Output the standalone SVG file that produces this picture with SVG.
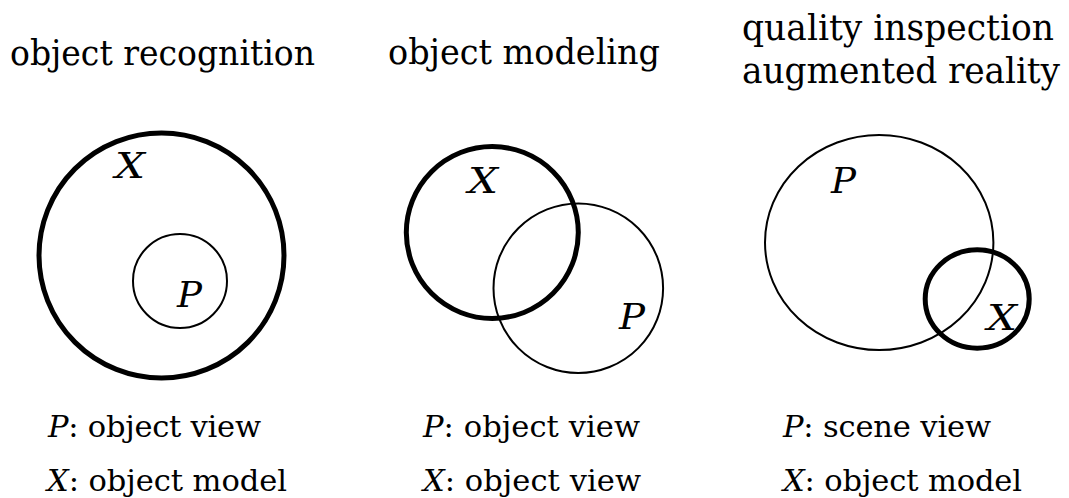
<svg xmlns="http://www.w3.org/2000/svg" width="1069" height="498" viewBox="0 0 1069 498">
<style>
.title{font-size:36px}
.title3{font-size:34.5px}
.lab{font-size:30.5px}
.var{font-style:italic;font-size:36px}
.it{font-style:italic}
.thick{fill:none;stroke:#000;stroke-width:5}
.thin{fill:none;stroke:#000;stroke-width:2}
</style>
<rect width="1069" height="498" fill="#fff"/>
<g id="panel-recognition" font-family="DejaVu Serif, serif" fill="#000">
<text class="title" x="10" y="65" textLength="305" lengthAdjust="spacingAndGlyphs">object recognition</text>
<circle class="thick" cx="161.5" cy="255.5" r="122.5"/>
<circle class="thin" cx="180" cy="281" r="47"/>
<text class="var" x="115" y="178" textLength="30" lengthAdjust="spacingAndGlyphs">X</text>
<text class="var" x="177" y="307" textLength="25" lengthAdjust="spacingAndGlyphs">P</text>
<text class="lab" x="48" y="437" textLength="213" lengthAdjust="spacing"><tspan class="it">P</tspan>: object view</text>
<text class="lab" x="47" y="491" textLength="240" lengthAdjust="spacing"><tspan class="it">X</tspan>: object model</text>
</g>
<g id="panel-modeling" font-family="DejaVu Serif, serif" fill="#000">
<text class="title" x="388" y="64" textLength="272" lengthAdjust="spacingAndGlyphs">object modeling</text>
<circle class="thin" cx="578.3" cy="288.2" r="84.8"/>
<circle class="thick" cx="492.3" cy="232.5" r="86"/>
<text class="var" x="468" y="193" textLength="30" lengthAdjust="spacingAndGlyphs">X</text>
<text class="var" x="619" y="329" textLength="26" lengthAdjust="spacingAndGlyphs">P</text>
<text class="lab" x="423" y="437" textLength="217" lengthAdjust="spacing"><tspan class="it">P</tspan>: object view</text>
<text class="lab" x="423" y="491" textLength="218" lengthAdjust="spacing"><tspan class="it">X</tspan>: object view</text>
</g>
<g id="panel-inspection" font-family="DejaVu Serif, serif" fill="#000">
<text class="title3" x="742" y="40" textLength="312" lengthAdjust="spacing">quality inspection</text>
<text class="title3" x="742" y="83" textLength="318" lengthAdjust="spacing">augmented reality</text>
<ellipse class="thin" cx="879.2" cy="242.5" rx="114.2" ry="107.5"/>
<ellipse class="thick" cx="977.2" cy="299" rx="52" ry="49.2"/>
<text class="var" x="831" y="193" textLength="25" lengthAdjust="spacingAndGlyphs">P</text>
<text class="var" x="987" y="330" textLength="30" lengthAdjust="spacingAndGlyphs">X</text>
<text class="lab" x="783" y="437" textLength="208" lengthAdjust="spacing"><tspan class="it">P</tspan>: scene view</text>
<text class="lab" x="783" y="491" textLength="239" lengthAdjust="spacing"><tspan class="it">X</tspan>: object model</text>
</g>
</svg>
